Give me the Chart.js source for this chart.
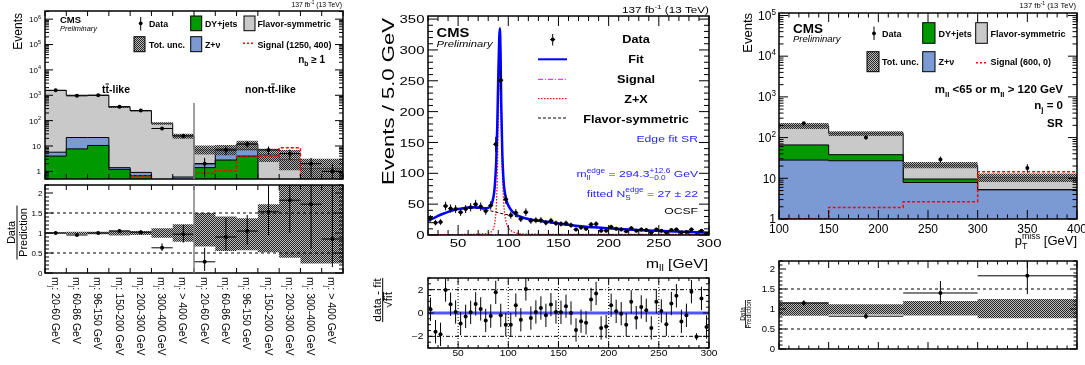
<!DOCTYPE html>
<html>
<head>
<meta charset="utf-8">
<title>CMS edge search plots</title>
<script src="https://cdn.jsdelivr.net/npm/chart.js@4.4.1/dist/chart.umd.min.js"></script>
<style>
  body { margin: 0; background: #fff; }
  #page { position: relative; width: 1085px; height: 365px; overflow: hidden; background: #fff; }
  #page canvas { position: absolute; }
</style>
</head>
<body>
<div id="page">
  <canvas id="lTop" width="350" height="183" style="left:0px;top:0px"></canvas>
  <canvas id="lRatio" width="350" height="184" style="left:0px;top:181px"></canvas>
  <canvas id="mTop" width="365" height="272" style="left:360px;top:0px"></canvas>
  <canvas id="mPull" width="365" height="95" style="left:360px;top:270px"></canvas>
  <canvas id="rTop" width="355" height="250" style="left:730px;top:0px"></canvas>
  <canvas id="rRatio" width="355" height="115" style="left:730px;top:250px"></canvas>
</div>
<script>
// ---------------- left: m_j categories, n_b >= 1 ----------------
const mjBins = ['20-60 GeV', '60-86 GeV', '96-150 GeV', '150-200 GeV', '200-300 GeV', '300-400 GeV', '> 400 GeV',
                '20-60 GeV', '60-86 GeV', '96-150 GeV', '150-200 GeV', '200-300 GeV', '300-400 GeV', '> 400 GeV'];
const ttSplit = 7;
const lDY     = [4.0, 7.7, 10.5, 1.2, 0.68, 0.3, 0.3, 1.4, 2.8, 4.0, 0.2, 0.2, 0.2, 0.2];
const lZnu    = [1.7, 13.9, 11.1, 0.2, 0.23, 0.1, 0.3, 0.6, 3.8, 3.3, 0.1, 0.1, 0.1, 0.1];
const lFS     = [1550, 980, 980, 336, 244, 77, 24.4, 5.0, 1.2, 4.4, 4.2, 2.6, 1.0, 1.0];
const lSignal = [0.3, 0.3, 0.3, 0.3, 0.66, 0.3, 0.3, 0.84, 1.06, 3.7, 4.0, 8.5, 0.3, 0.3];
const lData   = [1560, 950, 1000, 355, 250, 49, 25, 2, 7, 12, 7, 5, 2, 1];
const lUncLo  = [0.98, 0.97, 0.97, 0.94, 0.95, 0.88, 0.78, 0.66, 0.55, 0.57, 0.52, 0.38, 0.24, 0.24];
const lUncHi  = [1.02, 1.03, 1.03, 1.06, 1.05, 1.12, 1.22, 1.5, 1.41, 1.37, 1.72, 2.4, 2.4, 2.4];
const lRatio   = [1.0, 0.95, 1.0, 1.05, 1.02, 0.63, 0.97, 0.28, 0.9, 1.05, 1.53, 1.82, 1.72, 0.85];
const lRatioLo = [0.98, 0.93, 0.98, 1.0, 0.97, 0.55, 0.76, 0.05, 0.57, 0.71, 0.95, 1.0, 0.6, 0.15];
const lRatioHi = [1.02, 0.97, 1.02, 1.1, 1.07, 0.74, 1.2, 0.63, 1.38, 1.45, 2.3, 2.6, 2.6, 2.6];

// ---------------- middle: m_ll edge fit ----------------
const mllData = [27, 20, 21, 47, 43, 42, 37, 42, 45, 50, 46, 39, 48, 147, 251, 58, 32, 36, 26, 37,
                 23, 24, 24, 20, 23, 19, 18, 19, 16, 9, 12, 10, 17, 18, 7, 7, 13, 10, 9, 6,
                 11, 7, 9, 8, 4, 9, 7, 4, 8, 9, 4, 5, 9, 0, 7, 2];
const mllPull = [0.32, -1.6, -1.83, 1.97, 0.75, 0.09, -0.9, -0.29, 0.06, 0.78, 0.35, -0.64, -0.26, 1.77, -0.2, -1.0,
                 -1.0, 0.67, -0.58, 2.06, -0.43, 0.09, 0.43, -0.2, 0.72, 0.09, 0.06, 0.58, 0, -1.45, -0.7, -0.84,
                 1.16, 1.68, -1.28, -1.16, 0.67, 0.14, -0.06, -1.0, 0.96, -0.4, 0.52, 0.23, -1.28, 0.96, 0.17, -0.96,
                 0.81, 1.48, -0.72, -0.2, 1.83, -2.03, 1.25, -1.2];
const fitX = [20, 25, 30, 35, 40, 45, 50, 55, 60, 65, 70, 75, 80, 82, 84, 86, 87, 88, 89, 90, 91, 91.6, 92.3, 93, 94, 95, 96,
              98, 100, 103, 106, 110, 115, 120, 130, 140, 150, 160, 170, 180, 190, 200, 220, 240, 260, 280, 300];
const fitY = [23, 27, 31, 34.5, 37.5, 40, 42, 43.5, 44.5, 45, 44.5, 43.5, 44, 47, 53, 70, 90, 120, 175, 255, 320, 335, 295, 210, 135, 95, 75,
              57, 48, 40, 35, 31, 28, 26, 23, 21, 18.5, 16.5, 14.5, 13, 12, 10.8, 8.8, 7.3, 6, 4.9, 3.8];
const zxX = [20, 40, 60, 70, 80, 84, 86, 88, 89, 90, 91, 91.6, 92.3, 93, 94, 95, 96, 98, 100, 105, 110, 120, 140, 200, 300];
const zxY = [0.5, 0.7, 1, 1.5, 3, 7, 15, 45, 90, 180, 260, 288, 255, 185, 110, 65, 40, 20, 12, 5, 2.5, 1.5, 1.2, 1, 0.8];
const fsX = [20, 30, 40, 50, 60, 70, 80, 90, 100, 110, 120, 130, 140, 150, 160, 170, 180, 190, 200, 220, 240, 260, 280, 300];
const fsY = [23, 30.5, 37, 41.5, 43.5, 43, 40, 36, 32.5, 29, 25, 22.5, 20.5, 18, 16, 14, 12.6, 11.6, 10.5, 8.6, 7.1, 5.9, 4.8, 3.7];
const sigX = [20, 294, 294.3, 300];
const sigY = [0.1, 1.2, 0, 0];

// ---------------- right: pTmiss, n_j = 0 SR ----------------
const ptEdges  = [100, 150, 225, 300, 400];
const rZnu     = [28, 27, 7.9, 5.2];
const rDY      = [38, 11, 1.7, 0.1];
const rFS      = [129, 89, 11.4, 5.2];
const rSignal  = [1.02, 1.93, 2.66, 14.5];
const rData    = [225, 100, 29, 18];
const rUncLo   = [0.83, 0.86, 0.84, 0.77];
const rUncHi   = [1.17, 1.12, 1.2, 1.25];
const rRatio   = [1.15, 0.82, 1.4, 1.83];
const rRatioLo = [1.08, 0.75, 1.12, 1.37];
const rRatioHi = [1.22, 0.9, 1.7, 2.3];

// ---------------- styling ----------------
const FONT = '"Liberation Sans", Arial, Helvetica, sans-serif';
const GREEN = '#009a00', BLUE_FILL = '#7b9ad4', GRAY = '#c9c9c9', RED = '#ff0000', TXT_BLUE = '#2424ff';

function makeHatch() {
  const c = document.createElement('canvas');
  c.width = c.height = 4;
  const g = c.getContext('2d');
  g.fillStyle = 'rgba(150,150,150,0.65)';
  g.fillRect(0, 0, 4, 4);
  g.fillStyle = '#262626';
  for (let i = 0; i < 4; i++) for (let j = 0; j < 4; j++) if ((i + j) % 2 === 0) g.fillRect(i, j, 1, 1);
  return g.createPattern(c, 'repeat');
}
const HATCH = makeHatch();

// text with sub/superscripts; parts: 'text' or [text, 'sub'|'sup'|'bar'] or [[sup, sub], 'ss']
function rich(ctx, parts, x, y, size, o = {}) {
  const sx = o.sx || 1, sm = size * 0.68;
  const f = s => (o.italic ? 'italic ' : '') + (o.bold ? 'bold ' : '') + s.toFixed(2) + 'px ' + FONT;
  const items = parts.map(p => Array.isArray(p) ? { t: p[0], k: p[1] } : { t: p, k: '' });
  let total = 0;
  for (const it of items) {
    if (it.k === 'ss') {
      ctx.font = f(sm);
      it.w = Math.max(ctx.measureText(it.t[0]).width, ctx.measureText(it.t[1]).width);
    } else {
      ctx.font = f(it.k === 'sub' || it.k === 'sup' ? sm : size);
      it.w = ctx.measureText(it.t).width;
    }
    it.w *= sx;
    total += it.w;
  }
  let cx = o.align === 'right' ? x - total : o.align === 'center' ? x - total / 2 : x;
  ctx.fillStyle = o.color || '#000';
  ctx.strokeStyle = o.color || '#000';
  ctx.textAlign = 'left';
  ctx.textBaseline = 'alphabetic';
  const put = (t, px, py, s) => {
    ctx.font = f(s);
    ctx.save(); ctx.translate(px, py); ctx.scale(sx, 1); ctx.fillText(t, 0, 0); ctx.restore();
  };
  for (const it of items) {
    if (it.k === 'ss') {
      put(it.t[0], cx, y - size * 0.45, sm);
      put(it.t[1], cx, y + size * 0.3, sm);
    } else if (it.k === 'sup') {
      put(it.t, cx, y - size * 0.42, sm);
    } else if (it.k === 'sub') {
      put(it.t, cx, y + size * 0.28, sm);
    } else {
      put(it.t, cx, y, size);
      if (it.k === 'bar') {
        ctx.lineWidth = Math.max(1, size / 12);
        ctx.beginPath(); ctx.moveTo(cx, y - size * 0.86); ctx.lineTo(cx + it.w, y - size * 0.86); ctx.stroke();
      }
    }
    cx += it.w;
  }
  return total;
}

function rot(ctx, x, y, ang, fn) { ctx.save(); ctx.translate(x, y); ctx.rotate(ang); fn(); ctx.restore(); }

function seg(ctx, x0, y0, x1, y1, color, width, dash) {
  ctx.save();
  ctx.strokeStyle = color; ctx.lineWidth = width; ctx.setLineDash(dash || []);
  ctx.beginPath(); ctx.moveTo(x0, y0); ctx.lineTo(x1, y1); ctx.stroke();
  ctx.restore();
}

function swatch(ctx, x0, y0, x1, y1, fill) {
  ctx.save();
  ctx.fillStyle = fill; ctx.fillRect(x0, y0, x1 - x0, y1 - y0);
  ctx.strokeStyle = '#000'; ctx.lineWidth = 1; ctx.strokeRect(x0, y0, x1 - x0, y1 - y0);
  ctx.restore();
}

function marker(ctx, x, y, y0, y1, hw) {
  seg(ctx, x, y0, x, y1, '#000', 1);
  if (hw) seg(ctx, x - hw, y, x + hw, y, '#000', 1);
  ctx.beginPath(); ctx.fillStyle = '#000'; ctx.arc(x, y, 1.9, 0, 2 * Math.PI); ctx.fill();
}

// ---------------- helpers for histograms / ticks ----------------
function sum(...arrs) { return arrs[0].map((_, i) => arrs.reduce((s, a) => s + a[i], 0)); }
function hist(edges, vals) {
  const pts = vals.map((v, i) => ({ x: edges[i], y: v }));
  pts.push({ x: edges[edges.length - 1], y: vals[vals.length - 1] });
  return pts;
}
function curve(xs, ys) { return xs.map((x, i) => ({ x, y: ys[i] })); }
// stepped: true -> horizontal at the bin's value, then vertical at the next edge
function histLine(pts, o) {
  return Object.assign({ data: pts, stepped: true, pointRadius: 0, borderWidth: 1, borderColor: '#000',
                         fill: false, backgroundColor: 'transparent' }, o);
}
function points(xs, ys, lo, hi, xHalf, order) {
  return { data: xs.map((x, i) => ({ x, y: ys[i] })), showLine: false, pointRadius: 2, pointBorderWidth: 0,
           pointBackgroundColor: '#000', borderColor: '#000', errLo: lo, errHi: hi, xHalf, order };
}
function logTicks(lo, hi) {
  const major = [], minor = [];
  for (let e = Math.floor(Math.log10(lo)); e <= Math.ceil(Math.log10(hi)); e++) {
    const b = Math.pow(10, e);
    if (b >= lo && b <= hi) major.push(b);
    for (let k = 2; k < 10; k++) { const v = k * b; if (v >= lo && v <= hi) minor.push(v); }
  }
  return { major, minor };
}
function linTicks(lo, hi, step, sub) {
  const major = [], minor = [], ms = step / sub;
  for (let i = Math.ceil(lo / ms - 1e-9); i * ms <= hi + 1e-9; i++) {
    const v = +(i * ms).toFixed(6);
    (((i % sub) + sub) % sub === 0 ? major : minor).push(v);
  }
  return { major, minor };
}
const logLabel = v => v === 1 ? '1' : v === 10 ? '10' : ['10', [String(Math.round(Math.log10(v))), 'sup']];

function opts(pad, xs, ys) {
  return {
    responsive: false, animation: false, events: [], devicePixelRatio: 1,
    layout: { padding: pad },
    plugins: { legend: { display: false }, tooltip: { enabled: false } },
    scales: {
      x: Object.assign({ type: 'linear', display: false }, xs),
      y: Object.assign({ type: 'linear', display: false }, ys)
    }
  };
}

// ---------------- plugins ----------------
function framePlugin(c) {
  return {
    id: 'frame',
    afterDraw(chart) {
      const { ctx, chartArea: a, scales: { x, y } } = chart;
      ctx.save();
      ctx.strokeStyle = '#000'; ctx.lineWidth = 1;
      ctx.beginPath();
      const yt = (v, len) => { const p = y.getPixelForValue(v); ctx.moveTo(a.left, p); ctx.lineTo(a.left + len, p); ctx.moveTo(a.right, p); ctx.lineTo(a.right - len, p); };
      const xt = (v, len) => { const p = x.getPixelForValue(v); ctx.moveTo(p, a.bottom); ctx.lineTo(p, a.bottom - len); ctx.moveTo(p, a.top); ctx.lineTo(p, a.top + len); };
      c.y.major.forEach(v => yt(v, c.y.len[0]));
      (c.y.minor || []).forEach(v => yt(v, c.y.len[1]));
      c.x.major.forEach(v => xt(v, c.x.len[0]));
      (c.x.minor || []).forEach(v => xt(v, c.x.len[1]));
      ctx.stroke();
      ctx.lineWidth = 1.5;
      ctx.strokeRect(a.left, a.top, a.right - a.left, a.bottom - a.top);
      if (c.y.label) c.y.major.forEach(v => {
        const t = c.y.label(v);
        if (t !== null) rich(ctx, [].concat(t), a.left - c.y.pad, y.getPixelForValue(v) + c.y.size * 0.36, c.y.size, { align: 'right', sx: c.sx });
      });
      if (c.x.label) c.x.major.forEach(v => {
        rich(ctx, [c.x.label(v)], x.getPixelForValue(v), a.bottom + c.x.pad, c.x.size, { align: 'center', sx: c.sx });
      });
      ctx.restore();
    }
  };
}

function errorBars() {
  return {
    id: 'errbars',
    afterDatasetsDraw(chart) {
      const { ctx, chartArea: a, scales: { x, y } } = chart;
      const py = v => y.getPixelForValue(v <= y.min ? y.min : v);
      ctx.save();
      ctx.beginPath(); ctx.rect(a.left, a.top, a.right - a.left, a.bottom - a.top); ctx.clip();
      ctx.strokeStyle = '#000'; ctx.lineWidth = 1;
      ctx.beginPath();
      for (const ds of chart.data.datasets) {
        if (!ds.errLo) continue;
        ds.data.forEach((p, i) => {
          const px = x.getPixelForValue(p.x);
          ctx.moveTo(px, py(ds.errLo[i])); ctx.lineTo(px, py(ds.errHi[i]));
          const h = Array.isArray(ds.xHalf) ? ds.xHalf[i] : ds.xHalf;
          if (h) { const yy = py(p.y); ctx.moveTo(x.getPixelForValue(p.x - h), yy); ctx.lineTo(x.getPixelForValue(p.x + h), yy); }
        });
      }
      ctx.stroke();
      ctx.restore();
    }
  };
}

// draws in page coordinates; P maps data values to page pixels
function annot(ox, oy, draw, under) {
  const run = (chart, fn) => {
    const ctx = chart.ctx, { x, y } = chart.scales;
    const P = { x: v => x.getPixelForValue(v) + ox, y: v => y.getPixelForValue(v) + oy };
    ctx.save(); ctx.translate(-ox, -oy); fn(ctx, P); ctx.restore();
  };
  return {
    id: 'annot',
    beforeDatasetsDraw(chart) { if (under) run(chart, under); },
    afterDraw(chart) { run(chart, draw); }
  };
}

// ================= LEFT =================
const lEdges = mjBins.map((_, i) => i).concat(mjBins.length);
const lCenters = mjBins.map((_, i) => i + 0.5);
const lStackZ = sum(lDY, lZnu);
const lTotal = sum(lDY, lZnu, lFS);
const lLogT = logTicks(0.5, 2.1e6);

new Chart(document.getElementById('lTop'), {
  type: 'line',
  data: { datasets: [
    points(lCenters, lData, lData.map(v => v - Math.sqrt(v)), lData.map(v => v + Math.sqrt(v)), 0.5, 0),
    histLine(hist(lEdges, lSignal), { borderColor: RED, borderWidth: 1.5, borderDash: [3, 2], order: 1 }),
    histLine(hist(lEdges, lTotal.map((v, i) => v * lUncLo[i])), { borderColor: 'transparent', order: 2 }),
    histLine(hist(lEdges, lTotal.map((v, i) => v * lUncHi[i])), { borderColor: 'transparent', fill: '-1', backgroundColor: HATCH, order: 2 }),
    histLine(hist(lEdges, lDY), { backgroundColor: GREEN, fill: 'start', order: 3 }),
    histLine(hist(lEdges, lStackZ), { backgroundColor: BLUE_FILL, fill: 'start', order: 4 }),
    histLine(hist(lEdges, lTotal), { backgroundColor: GRAY, fill: 'start', order: 5 })
  ] },
  options: opts({ left: 45, top: 11, right: 7, bottom: 1 }, { min: 0, max: 14 }, { type: 'logarithmic', min: 0.5, max: 2.1e6 }),
  plugins: [
    framePlugin({ x: { major: lEdges, len: [5] }, y: { major: lLogT.major, minor: lLogT.minor, len: [8, 4], label: logLabel, pad: 4, size: 8 } }),
    errorBars(),
    annot(0, 0, (ctx, P) => {
      seg(ctx, P.x(ttSplit), P.y(500), P.x(ttSplit), P.y(0.5), '#808080', 1.5);
      rich(ctx, ['137 fb', ['-1', 'sup'], ' (13 TeV)'], 342, 7.3, 6.8, { align: 'right' });
      rot(ctx, 22, 13, -Math.PI / 2, () => rich(ctx, ['Events'], 0, 0, 12, { align: 'right' }));
      rich(ctx, ['CMS'], 60, 23.3, 9.5, { bold: true });
      rich(ctx, ['Preliminary'], 60, 30.5, 7.4, { italic: true });
      const fs = 8.8, r1 = 27.3, r2 = 48;
      marker(ctx, 140.7, 23.3, 17, 30.5, 0);
      rich(ctx, ['Data'], 149, r1, fs, { bold: true });
      swatch(ctx, 190.7, 16, 201.7, 30.7, GREEN);
      rich(ctx, ['DY+jets'], 205, r1, fs, { bold: true });
      swatch(ctx, 244, 16, 255, 30.7, GRAY);
      rich(ctx, ['Flavor-symmetric'], 257.5, r1, fs, { bold: true });
      swatch(ctx, 134, 36.7, 145, 51.7, HATCH);
      rich(ctx, ['Tot. unc.'], 149, r2, fs, { bold: true });
      swatch(ctx, 190.7, 36.7, 201.7, 51.7, BLUE_FILL);
      rich(ctx, ['Z+ν'], 205, r2, fs, { bold: true });
      seg(ctx, 243, 43.3, 254, 43.3, RED, 1.5, [2, 2]);
      rich(ctx, ['Signal (1250, 400)'], 257.5, r2, fs, { bold: true });
      rich(ctx, ['n', ['b', 'sub'], ' ≥ 1'], 325, 63, 10, { bold: true, align: 'right' });
      rich(ctx, ['t', ['t', 'bar'], '-like'], 102, 93, 10.5, { bold: true });
      rich(ctx, ['non-t', ['t', 'bar'], '-like'], 245, 93, 10.5, { bold: true });
    })
  ]
});

const lRatT = linTicks(0, 2.2, 0.5, 5);
new Chart(document.getElementById('lRatio'), {
  type: 'line',
  data: { datasets: [
    points(lCenters, lRatio, lRatioLo, lRatioHi, 0.5, 0),
    { data: [{ x: 0, y: 0.5 }, { x: 14, y: 0.5 }], borderColor: '#000', borderWidth: 1, borderDash: [3, 3], pointRadius: 0, order: 1 },
    { data: [{ x: 0, y: 1.5 }, { x: 14, y: 1.5 }], borderColor: '#000', borderWidth: 1, borderDash: [3, 3], pointRadius: 0, order: 1 },
    histLine(hist(lEdges, lUncLo), { borderColor: 'transparent', order: 2 }),
    histLine(hist(lEdges, lUncHi), { borderColor: 'transparent', fill: '-1', backgroundColor: HATCH, order: 2 })
  ] },
  options: opts({ left: 45, top: 1, right: 7, bottom: 92 }, { min: 0, max: 14 }, { min: 0, max: 2.2 }),
  plugins: [
    framePlugin({ x: { major: lEdges, len: [5] }, y: { major: lRatT.major, minor: lRatT.minor, len: [8, 4], label: v => String(v), pad: 2.5, size: 8 } }),
    errorBars(),
    annot(0, 181, (ctx, P) => {
      seg(ctx, P.x(ttSplit), P.y(2.2), P.x(ttSplit), P.y(0), '#808080', 1.5);
      rot(ctx, 17, 232.5, -Math.PI / 2, () => {
        rich(ctx, ['Data'], 0, -1.8, 11, { align: 'center' });
        rich(ctx, ['Prediction'], 0, 9.5, 11, { align: 'center' });
        seg(ctx, -27, 0, 27, 0, '#000', 1);
      });
      mjBins.forEach((b, i) => rot(ctx, P.x(i + 0.5) - 4, 277, Math.PI / 2,
        () => rich(ctx, ['m', ['j', 'sub'], ': ' + b], 0, 0, 10.5)));
    })
  ]
});

// ================= MIDDLE =================
const mllCenters = mllData.map((_, i) => 22.5 + 5 * i);
const mYT = linTicks(0, 355, 50, 5), mXT = linTicks(20, 300, 50, 5);

new Chart(document.getElementById('mTop'), {
  type: 'line',
  data: { datasets: [
    points(mllCenters, mllData, mllData.map(v => v - Math.sqrt(v)), mllData.map(v => v + Math.sqrt(v)), 2.5, 0),
    { data: curve(fitX, fitY), borderColor: '#0000ff', borderWidth: 2.5, pointRadius: 0, cubicInterpolationMode: 'monotone', order: 1 },
    { data: curve(sigX, sigY), borderColor: '#ff00ff', borderWidth: 1, borderDash: [5, 2, 1, 2], pointRadius: 0, order: 2 },
    { data: curve(zxX, zxY), borderColor: RED, borderWidth: 1.2, borderDash: [1.5, 1.5], pointRadius: 0, cubicInterpolationMode: 'monotone', order: 3 },
    { data: curve(fsX, fsY), borderColor: '#000', borderWidth: 1, borderDash: [3, 2], pointRadius: 0, cubicInterpolationMode: 'monotone', order: 4 }
  ] },
  options: opts({ left: 68, top: 16, right: 16, bottom: 37 }, { min: 20, max: 300 }, { min: 0, max: 355 }),
  plugins: [
    framePlugin({ sx: 1.3,
      x: { major: mXT.major, minor: mXT.minor, len: [10, 5], label: v => String(v), pad: 12, size: 11.5 },
      y: { major: mYT.major, minor: mYT.minor, len: [10, 5], label: v => String(v), pad: 3.5, size: 11.5 } }),
    errorBars(),
    annot(360, 0, (ctx) => {
      rich(ctx, ['137 fb', ['-1', 'sup'], ' (13 TeV)'], 709, 12.5, 9, { align: 'right', sx: 1.3 });
      rot(ctx, 394, 18, -Math.PI / 2, () => rich(ctx, ['Events / 5.0 GeV'], 0, 0, 17, { align: 'right', sx: 1.3 }));
      rich(ctx, ['CMS'], 436.5, 37.3, 12.5, { bold: true, sx: 1.18 });
      rich(ctx, ['Preliminary'], 436.5, 47.3, 8.5, { italic: true, sx: 1.32 });
      const lg = { bold: true, align: 'center', sx: 1.15 };
      marker(ctx, 552.7, 39.5, 34, 45.5, 2.5);
      rich(ctx, ['Data'], 636, 43.3, 11, lg);
      seg(ctx, 538, 59.3, 567, 59.3, '#0000ff', 2);
      rich(ctx, ['Fit'], 636, 63.3, 11, lg);
      seg(ctx, 538, 79.3, 567, 79.3, '#ff00ff', 1, [5, 2, 1, 2]);
      rich(ctx, ['Signal'], 636, 83, 11, lg);
      seg(ctx, 538, 98.7, 567, 98.7, RED, 1.2, [1.5, 1.5]);
      rich(ctx, ['Z+X'], 636, 103, 11, lg);
      seg(ctx, 538, 118, 567, 118, '#000', 1, [3, 2]);
      rich(ctx, ['Flavor-symmetric'], 636, 122.5, 11, lg);
      const bt = { color: TXT_BLUE, align: 'right', sx: 1.28 };
      rich(ctx, ['Edge fit SR'], 698, 141.7, 9.5, bt);
      rich(ctx, ['m', [['edge', 'll'], 'ss'], ' = 294.3', [['+12.6', '\u22120.0'], 'ss'], ' GeV'], 698, 177.3, 9.5, bt);
      rich(ctx, ['fitted N', [['edge', 'S'], 'ss'], ' = 27 ± 22'], 698, 196.7, 9.5, bt);
      rich(ctx, ['OCSF'], 698, 213.5, 9.5, { align: 'right', sx: 1.28 });
      rich(ctx, ['m', ['ll', 'sub'], ' [GeV]'], 708, 268, 12, { align: 'right', sx: 1.3 });
    })
  ]
});

const pYT = linTicks(-3, 3, 2, 4);
new Chart(document.getElementById('mPull'), {
  type: 'line',
  data: { datasets: [
    points(mllCenters, mllPull, mllPull.map((v, i) => v - (mllData[i] > 0 ? 1 : 0.3)), mllPull.map((v, i) => v + (mllData[i] > 0 ? 1 : 0.3)), 0, 0),
    { data: [{ x: 20, y: 0 }, { x: 300, y: 0 }], borderColor: 'rgba(40,40,255,0.8)', borderWidth: 3, pointRadius: 0, order: 1 }
  ] },
  options: opts({ left: 68, top: 8, right: 16, bottom: 17 }, { min: 20, max: 300 }, { min: -3, max: 3 }),
  plugins: [
    framePlugin({ sx: 1.2,
      x: { major: mXT.major, minor: mXT.minor, len: [6, 3], label: v => String(v), pad: 8, size: 8.5 },
      y: { major: pYT.major, minor: pYT.minor, len: [6, 3], label: v => v < 0 ? '\u2212' + (-v) : String(v), pad: 4.5, size: 8.5 } }),
    errorBars(),
    annot(360, 270, (ctx) => {
      rot(ctx, 382.7, 300, -Math.PI / 2, () => {
        rich(ctx, ['data - fit'], 0, -1.8, 10, { align: 'center', sx: 1.2 });
        rich(ctx, ['√', ['fit', 'bar']], 0, 9.5, 10, { align: 'center', sx: 1.2 });
        seg(ctx, -22, 0, 22, 0, '#000', 1);
      });
    }, (ctx, P) => {
      [50, 100, 150, 200, 250].forEach(v => seg(ctx, P.x(v), P.y(3), P.x(v), P.y(-3), '#000', 1, [1, 2]));
      [-2, 2].forEach(v => seg(ctx, P.x(20), P.y(v), P.x(300), P.y(v), '#000', 1, [4, 2, 1, 2]));
    })
  ]
});

// ================= RIGHT =================
const ptCenters = ptEdges.slice(0, -1).map((e, i) => (e + ptEdges[i + 1]) / 2);
const ptHalf = ptEdges.slice(0, -1).map((e, i) => (ptEdges[i + 1] - e) / 2);
const rStackDY = sum(rZnu, rDY);
const rTotal = sum(rZnu, rDY, rFS);
const rLogT = logTicks(1, 1.15e5), rXT = linTicks(100, 400, 50, 5);

new Chart(document.getElementById('rTop'), {
  type: 'line',
  data: { datasets: [
    points(ptCenters, rData, rData.map(v => v - Math.sqrt(v)), rData.map(v => v + Math.sqrt(v)), 0, 0),
    histLine(hist(ptEdges, rSignal), { borderColor: RED, borderWidth: 1.5, borderDash: [3, 2], order: 1 }),
    histLine(hist(ptEdges, rTotal.map((v, i) => v * rUncLo[i])), { borderColor: 'transparent', order: 2 }),
    histLine(hist(ptEdges, rTotal.map((v, i) => v * rUncHi[i])), { borderColor: 'transparent', fill: '-1', backgroundColor: HATCH, order: 2 }),
    histLine(hist(ptEdges, rZnu), { backgroundColor: BLUE_FILL, fill: 'start', order: 3 }),
    histLine(hist(ptEdges, rStackDY), { backgroundColor: GREEN, fill: 'start', order: 4 }),
    histLine(hist(ptEdges, rTotal), { backgroundColor: GRAY, fill: 'start', order: 5 })
  ] },
  options: opts({ left: 49, top: 13, right: 8, bottom: 31 }, { min: 100, max: 400 }, { type: 'logarithmic', min: 1, max: 1.15e5 }),
  plugins: [
    framePlugin({
      x: { major: rXT.major, minor: rXT.minor, len: [9, 4.5], label: v => String(v), pad: 14, size: 12 },
      y: { major: rLogT.major, minor: rLogT.minor, len: [9, 4.5], label: logLabel, pad: 3, size: 12 } }),
    errorBars(),
    annot(730, 0, (ctx) => {
      rich(ctx, ['137 fb', ['-1', 'sup'], ' (13 TeV)'], 1076, 7.8, 7.6, { align: 'right' });
      rot(ctx, 751.5, 13, -Math.PI / 2, () => rich(ctx, ['Events'], 0, 0, 13, { align: 'right' }));
      rich(ctx, ['CMS'], 793, 33.3, 13.5, { bold: true });
      rich(ctx, ['Preliminary'], 793, 41.7, 9.5, { italic: true });
      const fs = 9, r1 = 36.5, r2 = 65;
      marker(ctx, 874, 33.3, 26.5, 40, 0);
      rich(ctx, ['Data'], 882, r1, fs, { bold: true });
      swatch(ctx, 922.7, 22.7, 935, 43.3, GREEN);
      rich(ctx, ['DY+jets'], 938.5, r1, fs, { bold: true });
      swatch(ctx, 975.7, 22.7, 987.3, 43.3, GRAY);
      rich(ctx, ['Flavor-symmetric'], 990.5, r1, fs, { bold: true });
      swatch(ctx, 867, 51.7, 879, 71.7, HATCH);
      rich(ctx, ['Tot. unc.'], 882, r2, fs, { bold: true });
      swatch(ctx, 922.7, 51.7, 935, 71.7, BLUE_FILL);
      rich(ctx, ['Z+ν'], 938.5, r2, fs, { bold: true });
      seg(ctx, 976, 62.7, 987, 62.7, RED, 1.5, [2, 2]);
      rich(ctx, ['Signal (600, 0)'], 990.5, r2, fs, { bold: true });
      const bb = { bold: true, align: 'right' };
      rich(ctx, ['m', ['ll', 'sub'], ' <65 or m', ['ll', 'sub'], ' > 120 GeV'], 1063, 93.3, 11.5, bb);
      rich(ctx, ['n', ['j', 'sub'], ' = 0'], 1063, 109, 11.5, bb);
      rich(ctx, ['SR'], 1063, 127, 11.5, bb);
      rich(ctx, ['p', [['miss', 'T'], 'ss'], ' [GeV]'], 1077, 245, 13, { align: 'right' });
    })
  ]
});

const rRatT = linTicks(0, 2.2, 0.5, 5);
new Chart(document.getElementById('rRatio'), {
  type: 'line',
  data: { datasets: [
    points(ptCenters, rRatio, rRatioLo, rRatioHi, ptHalf, 0),
    { data: [{ x: 100, y: 0.5 }, { x: 400, y: 0.5 }], borderColor: '#000', borderWidth: 1, borderDash: [3, 3], pointRadius: 0, order: 1 },
    { data: [{ x: 100, y: 1.5 }, { x: 400, y: 1.5 }], borderColor: '#000', borderWidth: 1, borderDash: [3, 3], pointRadius: 0, order: 1 },
    histLine(hist(ptEdges, rUncLo), { borderColor: 'transparent', order: 2 }),
    histLine(hist(ptEdges, rUncHi), { borderColor: 'transparent', fill: '-1', backgroundColor: HATCH, order: 2 })
  ] },
  options: opts({ left: 49, top: 11, right: 8, bottom: 16 }, { min: 100, max: 400 }, { min: 0, max: 2.2 }),
  plugins: [
    framePlugin({
      x: { major: rXT.major, minor: rXT.minor, len: [7, 3.5] },
      y: { major: rRatT.major, minor: rRatT.minor, len: [7, 3.5], label: v => String(v), pad: 4, size: 9.5 } }),
    errorBars(),
    annot(730, 250, (ctx) => {
      rot(ctx, 745.5, 314, -Math.PI / 2, () => {
        rich(ctx, ['Data'], 0, -0.8, 6.5, { align: 'center' });
        rich(ctx, ['Prediction'], 0, 5.8, 6.5, { align: 'center' });
        seg(ctx, -14, 0, 14, 0, '#000', 0.8);
      });
    })
  ]
});
</script>
</body>
</html>
